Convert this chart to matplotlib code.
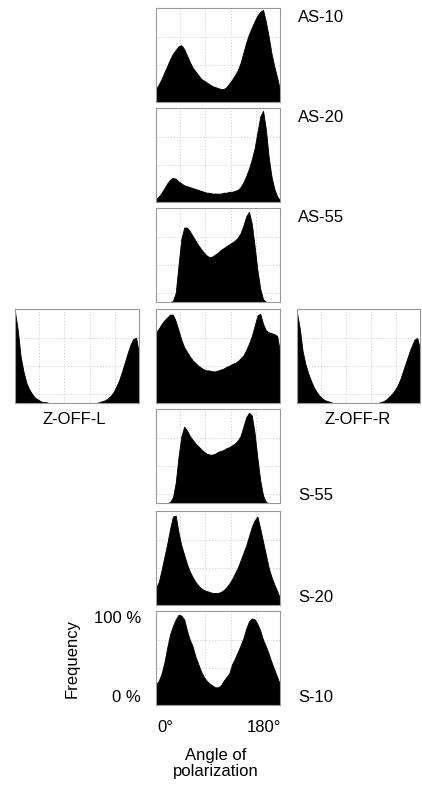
import matplotlib.pyplot as plt
import numpy as np

plt.rcParams["font.family"] = ["Liberation Sans", "DejaVu Sans"]
plt.rcParams["font.size"] = 12

# bin centres (degrees), 4 degree bins
angles = np.arange(2, 180, 4)

# relative frequency (% of max)
as10 = [14, 19, 25, 32, 39, 46, 52, 56, 60, 61, 57, 50, 43, 37, 33, 29, 25, 23, 21, 19,
        17, 16, 15, 14, 14, 16, 20, 24, 29, 34, 42, 53, 64, 73, 80, 87, 93, 97, 99, 86,
        70, 52, 38, 26, 13]
as20 = [3, 6, 10, 15, 20, 24, 26, 25, 22, 20, 18, 17, 16, 15, 14, 13, 12, 11, 10, 10,
        9, 9, 9, 9, 10, 10, 11, 11, 12, 13, 16, 21, 28, 36, 46, 58, 75, 92, 98, 78,
        48, 27, 14, 6, 2]
as55 = [0, 0, 0, 0, 0, 0, 1, 10, 40, 68, 80, 80, 76, 71, 66, 61, 57, 53, 50, 48,
        49, 51, 53, 56, 58, 60, 62, 64, 66, 69, 74, 82, 92, 97, 84, 60, 34, 14, 3, 0,
        0, 0, 0, 0, 0]
zoff_c = [76, 80, 85, 89, 92, 95, 95, 88, 78, 68, 60, 55, 50, 46, 43, 40, 38, 36, 35, 35,
          34, 34, 35, 36, 37, 39, 40, 42, 43, 45, 48, 51, 57, 64, 72, 83, 94, 96, 85, 78,
          76, 75, 74, 72, 55]
zoff_l = [98, 78, 50, 34, 22, 15, 10, 6, 4, 2, 1, 1, 0, 0, 0, 0, 0, 0, 0, 0,
          0, 0, 0, 0, 0, 0, 0, 0, 0, 0, 1, 2, 3, 5, 8, 12, 18, 25, 34, 44,
          54, 63, 69, 70, 52]
zoff_r = [97, 80, 56, 42, 32, 24, 17, 12, 8, 5, 3, 2, 1, 0, 0, 0, 0, 0, 0, 0,
          0, 0, 0, 0, 0, 0, 0, 0, 0, 0, 1, 2, 4, 7, 10, 14, 19, 26, 35, 44,
          53, 61, 68, 70, 58]
s55 = [0, 0, 0, 0, 0, 1, 6, 22, 50, 72, 82, 78, 72, 68, 64, 61, 58, 55, 53, 52,
       52, 53, 55, 56, 57, 59, 60, 62, 64, 67, 72, 82, 92, 97, 94, 75, 48, 24, 8, 1,
       0, 0, 0, 0, 0]
s20 = [18, 25, 38, 52, 66, 82, 95, 96, 78, 64, 54, 44, 36, 30, 25, 21, 18, 16, 15, 14,
       13, 13, 13, 14, 16, 19, 23, 28, 34, 40, 48, 56, 64, 74, 84, 91, 95, 82, 68, 54,
       40, 30, 22, 15, 7]
s10 = [22, 26, 34, 46, 62, 76, 85, 92, 97, 96, 92, 80, 70, 63, 52, 44, 36, 30, 26, 23,
       21, 19, 19, 21, 26, 30, 34, 44, 50, 57, 64, 72, 82, 90, 93, 92, 87, 80, 70, 63,
       55, 46, 38, 30, 22]

center_series = [as10, as20, as55, zoff_c, s55, s20, s10]
center_names = ["AS-10", "AS-20", "AS-55", None, "S-55", "S-20", "S-10"]

W, H = 422, 792
fig = plt.figure(figsize=(W / 100, H / 100), dpi=100)


def px_axes(x, y, w, h):
    return fig.add_axes([x / W, 1 - (y + h) / H, w / W, h / H])


def draw_hist(ax, vals):
    ax.fill_between(angles, 0, vals, color="black", linewidth=0.6, zorder=2)
    ax.set_xlim(angles[0], angles[-1])
    ax.set_ylim(0, 101)
    ax.set_xticks([36, 72, 108, 144])
    ax.set_yticks([10, 40, 70])
    ax.grid(True, color="#c8c8c8", linestyle=(0, (1, 2)), linewidth=0.7, zorder=0)
    ax.tick_params(length=0, labelbottom=False, labelleft=False)
    for sp in ax.spines.values():
        sp.set_color("#999999")
        sp.set_linewidth(0.8)


tops = [8, 108, 208, 309, 409, 511, 611]
for i, vals in enumerate(center_series):
    ax = px_axes(156, tops[i], 124, 94)
    draw_hist(ax, vals)
    name = center_names[i]
    if name is None:
        continue
    if name.startswith("AS"):
        fig.text(298 / W, 1 - (tops[i] + 2) / H, name, ha="left", va="top")
    else:
        fig.text(298 / W, 1 - (tops[i] + 94) / H, name, ha="left", va="bottom")

axl = px_axes(15, 309, 124, 94)
draw_hist(axl, zoff_l)
fig.text(74 / W, 1 - 412 / H, "Z-OFF-L", ha="center", va="top")

axr = px_axes(297, 309, 123, 94)
draw_hist(axr, zoff_r)
fig.text(358 / W, 1 - 412 / H, "Z-OFF-R", ha="center", va="top")

# axis annotations on the bottom panel
fig.text(141 / W, 1 - 611 / H, "100 %", ha="right", va="top")
fig.text(141 / W, 1 - 705 / H, "0 %", ha="right", va="bottom")
fig.text(72 / W, 1 - 659 / H, "Frequency", rotation=90, ha="center", va="center")
fig.text(157 / W, 1 - 720 / H, "0°", ha="left", va="top")
fig.text(281 / W, 1 - 720 / H, "180°", ha="right", va="top")
fig.text(216 / W, 1 - 748 / H, "Angle of\npolarization", ha="center", va="top",
         linespacing=1.1)

fig.savefig("out.png", dpi=100)
